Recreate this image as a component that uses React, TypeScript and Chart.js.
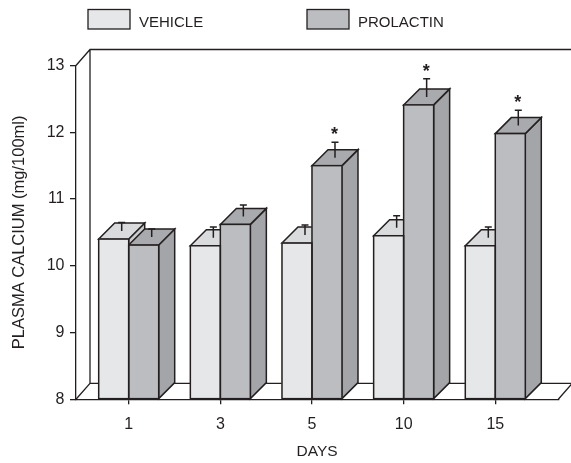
import React, { useEffect, useRef } from 'react';
import { Chart, registerables } from 'chart.js';

Chart.register(...registerables);

// ---- data ----
const DAYS = ['1', '3', '5', '10', '15'];
const VEHICLE = [10.4, 10.3, 10.34, 10.45, 10.3];
const PROLACTIN = [10.31, 10.62, 11.5, 12.41, 11.98];
const VEHICLE_ERR = [0.13, 0.16, 0.15, 0.18, 0.16];
const PROLACTIN_ERR = [0.12, 0.17, 0.23, 0.27, 0.23];
const SIGNIFICANT = [false, false, true, true, true];
const Y_TICKS = [8, 9, 10, 11, 12, 13];

// ---- styles ----
const INK = '#231f20';
const FONT = "'Liberation Sans', Arial, Helvetica, sans-serif";
const FACES = [
  { front: '#e6e7e8', top: '#dadbdd', side: '#cbccce' },
  { front: '#bcbdc0', top: '#a9aaad', side: '#a4a5a8' },
];
const BAR_DEPTH = 16;
const WALL_DX = 14;
const WALL_DY = 16;

const ERRORS = [VEHICLE_ERR, PROLACTIN_ERR];

const frame3d = {
  id: 'frame3d',
  beforeDatasetsDraw(chart: any) {
    const { ctx, chartArea: a, width } = chart;
    ctx.save();
    ctx.strokeStyle = INK;
    ctx.lineWidth = 1.3;
    ctx.lineJoin = 'miter';
    ctx.beginPath();
    // back wall
    ctx.moveTo(a.left, a.top);
    ctx.lineTo(a.left + WALL_DX, a.top - WALL_DY);
    ctx.lineTo(width + 2, a.top - WALL_DY);
    ctx.moveTo(a.left + WALL_DX, a.top - WALL_DY);
    ctx.lineTo(a.left + WALL_DX, a.bottom - WALL_DY);
    // floor
    ctx.moveTo(a.left, a.bottom);
    ctx.lineTo(a.left + WALL_DX, a.bottom - WALL_DY);
    ctx.lineTo(a.right + WALL_DX, a.bottom - WALL_DY);
    ctx.lineTo(a.right, a.bottom);
    ctx.stroke();

    // side and top faces, painted left to right
    const d = BAR_DEPTH;
    ctx.lineWidth = 1.5;
    ctx.strokeStyle = INK;
    const n = chart.data.labels.length;
    for (let i = 0; i < n; i++) {
      for (let ds = 0; ds < 2; ds++) {
        const el = chart.getDatasetMeta(ds).data[i];
        if (!el) continue;
        const { x, y, base, width: w } = el.getProps(['x', 'y', 'base', 'width'], true);
        const l = x - w / 2;
        const r = x + w / 2;
        // side
        ctx.beginPath();
        ctx.moveTo(r, y);
        ctx.lineTo(r + d, y - d);
        ctx.lineTo(r + d, base - d);
        ctx.lineTo(r, base);
        ctx.closePath();
        ctx.fillStyle = FACES[ds].side;
        ctx.fill();
        ctx.stroke();
        // top
        ctx.beginPath();
        ctx.moveTo(l, y);
        ctx.lineTo(r, y);
        ctx.lineTo(r + d, y - d);
        ctx.lineTo(l + d, y - d);
        ctx.closePath();
        ctx.fillStyle = FACES[ds].top;
        ctx.fill();
        ctx.stroke();
      }
    }
    ctx.restore();
  },
  afterDatasetsDraw(chart: any) {
    const { ctx } = chart;
    const yScale = chart.scales.y;
    const d = BAR_DEPTH;
    ctx.save();
    ctx.strokeStyle = INK;
    ctx.lineWidth = 1.5;
    const n = chart.data.labels.length;
    // front outlines
    for (let ds = 0; ds < 2; ds++) {
      for (let i = 0; i < n; i++) {
        const el = chart.getDatasetMeta(ds).data[i];
        const { x, y, base, width: w } = el.getProps(['x', 'y', 'base', 'width'], true);
        ctx.strokeRect(x - w / 2, y, w, base - y);
      }
    }
    // error bars + asterisks
    for (let ds = 0; ds < 2; ds++) {
      const values = chart.data.datasets[ds].data;
      for (let i = 0; i < n; i++) {
        const el = chart.getDatasetMeta(ds).data[i];
        const { x, y } = el.getProps(['x', 'y'], true);
        const v = values[i].y;
        const cx = x + d / 2;
        const y0 = y - d / 2;
        const yTop = yScale.getPixelForValue(v + ERRORS[ds][i]) - d / 2;
        ctx.beginPath();
        ctx.moveTo(cx, y0);
        ctx.lineTo(cx, yTop);
        ctx.moveTo(cx - 3.5, yTop);
        ctx.lineTo(cx + 3.5, yTop);
        ctx.stroke();
        if (ds === 1 && SIGNIFICANT[i]) {
          ctx.fillStyle = INK;
          ctx.font = `bold 18px ${FONT}`;
          ctx.textAlign = 'center';
          ctx.textBaseline = 'alphabetic';
          ctx.fillText('*', cx - 0.5, yTop - 12 + 10);
        }
      }
    }
    ctx.restore();
  },
};

const boxLegend = {
  id: 'boxLegend',
  afterDraw(chart: any) {
    const { ctx } = chart;
    const xs = [88, 307];
    ctx.save();
    ctx.font = `15px ${FONT}`;
    ctx.textBaseline = 'middle';
    ctx.textAlign = 'left';
    chart.data.datasets.forEach((dset: any, k: number) => {
      const x = xs[k];
      ctx.fillStyle = dset.backgroundColor;
      ctx.fillRect(x, 9.5, 42, 19.5);
      ctx.strokeStyle = INK;
      ctx.lineWidth = 1.3;
      ctx.strokeRect(x, 9.5, 42, 19.5);
      ctx.fillStyle = INK;
      ctx.fillText(dset.label, x + 51, 22.5);
    });
    ctx.restore();
  },
};

export default function App() {
  const ref = useRef<HTMLCanvasElement | null>(null);

  useEffect(() => {
    if (!ref.current) return;
    Chart.defaults.font.family = FONT;
    const chart = new Chart(ref.current, {
      type: 'bar',
      data: {
        labels: DAYS,
        datasets: [
          {
            label: 'VEHICLE',
            data: VEHICLE.map((v, i) => ({ x: i, y: v })),
            backgroundColor: FACES[0].front,
            borderWidth: 0,
            barThickness: 30,
            base: Y_TICKS[0],
          },
          {
            label: 'PROLACTIN',
            data: PROLACTIN.map((v, i) => ({ x: i, y: v })),
            backgroundColor: FACES[1].front,
            borderWidth: 0,
            barThickness: 30,
            base: Y_TICKS[0],
          },
        ],
      },
      options: {
        responsive: false,
        animation: false,
        events: [],
        layout: { padding: { top: 65.5, right: 12.7, left: 0, bottom: 0 } },
        plugins: {
          legend: { display: false },
          tooltip: { enabled: false },
        },
        scales: {
          x: {
            type: 'linear',
            min: -0.575,
            max: 4.6875,
            offset: false,
            afterBuildTicks: (s: any) => {
              s.ticks = DAYS.map((_, i) => ({ value: i }));
            },
            afterFit: (s: any) => {
              s.height = 63.7;
            },
            grid: {
              display: true,
              offset: false,
              drawOnChartArea: false,
              drawTicks: true,
              tickLength: 5,
              color: INK,
              lineWidth: 1.3,
            },
            border: { display: true, color: INK, width: 1.3, z: 1 },
            ticks: {
              callback: (v: any) => DAYS[v as number],
              padding: 11,
              color: INK,
              font: { size: 16, family: FONT },
              maxRotation: 0,
              autoSkip: false,
            },
            title: {
              display: true,
              text: 'DAYS',
              color: INK,
              font: { size: 15.5, family: FONT },
              padding: { top: 0, bottom: 2 },
            },
          },
          y: {
            min: 8,
            max: 13,
            afterBuildTicks: (s: any) => {
              s.ticks = Y_TICKS.map((v) => ({ value: v }));
            },
            afterFit: (s: any) => {
              s.width = 76;
            },
            grid: {
              drawOnChartArea: false,
              drawTicks: true,
              tickLength: 6,
              color: INK,
              lineWidth: 1.3,
            },
            border: { display: true, color: INK, width: 1.3, z: 1 },
            ticks: {
              padding: 5.5,
              color: INK,
              font: { size: 16, family: FONT },
            },
            title: {
              display: true,
              text: 'PLASMA CALCIUM (mg/100ml)',
              color: INK,
              font: { size: 16.5, family: FONT },
              padding: { top: 10, bottom: 0 },
            },
          },
        },
      },
      plugins: [frame3d, boxLegend],
    } as any);
    return () => chart.destroy();
  }, []);

  return (
    <div style={{ position: 'absolute', left: 0, top: 0, width: 571, height: 463, background: '#fff' }}>
      <canvas ref={ref} width={571} height={463} style={{ display: 'block' }} />
    </div>
  );
}
